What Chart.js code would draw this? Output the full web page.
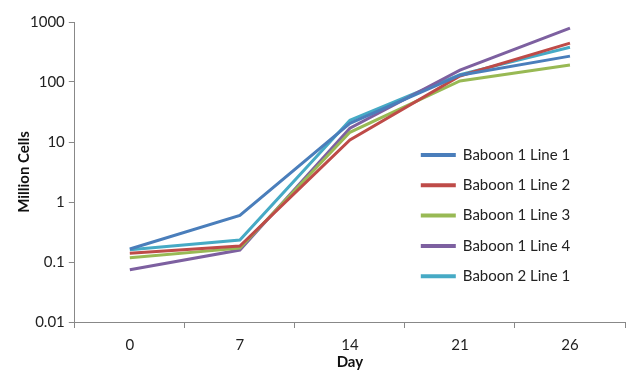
<!DOCTYPE html>
<html>
<head>
<meta charset="utf-8">
<script src="https://cdn.jsdelivr.net/npm/chart.js@4"></script>
<style>
  html, body { margin: 0; padding: 0; background: #fff; }
  #wrap { width: 629px; height: 370px; }
</style>
</head>
<body>
<div id="wrap"><canvas id="chartContainer" width="629" height="370"></canvas></div>
<script>
// Data
const days = ["0", "7", "14", "21", "26"];
const baboon1Line1 = [0.165, 0.6, 20.5, 130, 270];
const baboon1Line2 = [0.14, 0.185, 10.8, 126, 445];
const baboon1Line3 = [0.118, 0.17, 14.5, 104, 192];
const baboon1Line4 = [0.074, 0.158, 17, 158, 790];
const baboon2Line1 = [0.16, 0.233, 23, 133, 380];
const seriesNames = ["Baboon 1 Line 1", "Baboon 1 Line 2", "Baboon 1 Line 3", "Baboon 1 Line 4", "Baboon 2 Line 1"];
const seriesColors = ["#4a7ebb", "#be4b48", "#98b954", "#7d60a0", "#46aac5"];
const yTicks = [0.01, 0.1, 1, 10, 100, 1000];

const allSeries = [baboon1Line1, baboon1Line2, baboon1Line3, baboon1Line4, baboon2Line1];

// Legend drawn inside the plot area, like the original
const innerLegend = {
  id: "innerLegend",
  afterDraw(chart) {
    const ctx = chart.ctx;
    const area = chart.chartArea;
    const x0 = area.left + 346;
    const y0 = area.top + 133;
    ctx.save();
    ctx.font = "15px Lato";
    ctx.textBaseline = "middle";
    chart.data.datasets.forEach((ds, i) => {
      const y = y0 + i * 30.3;
      ctx.strokeStyle = ds.borderColor;
      ctx.lineWidth = 4;
      ctx.beginPath();
      ctx.moveTo(x0, y);
      ctx.lineTo(x0 + 35, y);
      ctx.stroke();
      ctx.fillStyle = "#222";
      ctx.fillText(ds.label, x0 + 42, y);
    });
    ctx.restore();
  }
};

const chart = new Chart(document.getElementById("chartContainer"), {
  type: "line",
  data: {
    labels: days,
    datasets: allSeries.map((values, i) => ({
      label: seriesNames[i],
      data: values,
      borderColor: seriesColors[i],
      backgroundColor: seriesColors[i],
      borderWidth: 3,
      pointRadius: 0,
      tension: 0
    }))
  },
  options: {
    responsive: false,
    animation: false,
    layout: { padding: { top: 22, right: 4, left: 17, bottom: 0 } },
    plugins: {
      legend: { display: false },
      tooltip: { enabled: false }
    },
    scales: {
      x: {
        offset: true,
        grid: { display: true, offset: true, drawOnChartArea: false, color: "#888", tickLength: 6 },
        border: { color: "#888", width: 1 },
        ticks: { color: "#222", font: { family: "Lato", size: 15 }, padding: 8 },
        title: { display: true, text: "Day", color: "#111", font: { family: "Lato", size: 15, weight: "bold", lineHeight: 1 }, padding: { top: -7, bottom: 0 } }
      },
      y: {
        type: "logarithmic",
        min: 0.01,
        max: 1000,
        afterBuildTicks(scale) {
          scale.ticks = yTicks.map(v => ({ value: v }));
        },
        grid: { display: true, drawOnChartArea: false, color: "#888", tickLength: 6 },
        border: { color: "#888", width: 1 },
        ticks: {
          color: "#222",
          font: { family: "Lato", size: 15 },
          padding: 4,
          callback: (v) => String(v)
        },
        title: { display: true, text: "Million Cells", color: "#111", font: { family: "Lato", size: 15, weight: "bold", lineHeight: 1 }, padding: { top: 0, bottom: -6 } }
      }
    }
  },
  plugins: [innerLegend]
});
</script>
</body>
</html>
